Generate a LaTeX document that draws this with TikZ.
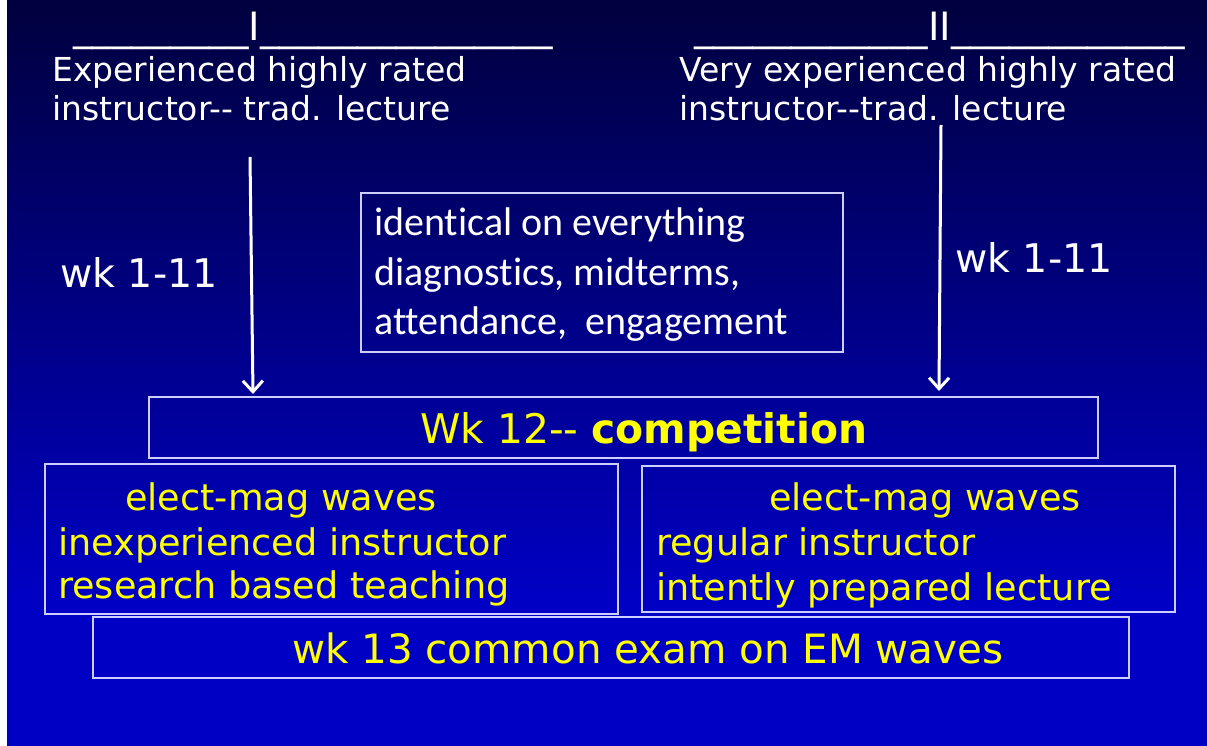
\documentclass[tikz,border=0pt]{standalone}
\usepackage{fontspec}
\setmainfont{DejaVu Sans}
\newfontfamily\calibri{Carlito}[Ligatures={NoCommon}]
\usetikzlibrary{arrows.meta}
\definecolor{bgtop}{RGB}{0,0,62}
\definecolor{bgbot}{RGB}{0,0,196}
\definecolor{frame}{RGB}{205,205,255}
\definecolor{hiyellow}{RGB}{255,255,0}
\tikzset{
  txt/.style={inner sep=0pt, anchor=base west, text=white},
  ytxt/.style={inner sep=0pt, anchor=base west, text=hiyellow},
  heading/.style={txt, font=\fontsize{39}{47}\selectfont},
  body/.style={txt, font=\fontsize{33}{40}\selectfont},
  weeks/.style={txt, font=\fontsize{39.5}{47}\selectfont},
  compline/.style={ytxt, font=\fontsize{40.8}{49}\selectfont},
  examline/.style={ytxt, font=\fontsize{40.4}{48}\selectfont},
  yellow/.style={ytxt, font=\fontsize{36.6}{44}\selectfont},
  note/.style={txt, font=\calibri\fontsize{40}{48}\selectfont},
  panel/.style={draw=frame, line width=1.5pt, inner sep=0pt},
  flow/.style={draw=white, line width=3pt, -{Straight Barb[length=11pt,width=20pt]}}
}
\begin{document}
\begin{tikzpicture}[x=1pt, y=-1pt]
\useasboundingbox (0,0) rectangle (1207,746);
% background
\fill[white] (0,0) rectangle (7,746);
\shade[top color=bgtop, bottom color=bgbot] (7,0) rectangle (1207,600);
\fill[bgbot] (7,599.5) rectangle (1207,746);

% column headings
\node[heading] (h1) at (73,41) {\_\_\_\_\_\_\_\_\_I\_\_\_\_\_\_\_\_\_\_\_\_\_\_\_};
\node[heading] (h2) at (694,41) {\_\_\_\_\_\_\_\_\_\_\_\_II\_\_\_\_\_\_\_\_\_\_\_\_};
\node[body] (d1a) at (52,82) {Experienced highly rated};
\node[body] (d1b) at (52,121) {instructor-{}- trad. lecture};
\node[body] (d2a) at (679,82) {Very experienced highly rated};
\node[body] (d2b) at (679,121) {instructor-{}-trad. lecture};

% week labels
\node[weeks] (w1) at (60,287) {wk 1-11};
\node[weeks] (w2) at (955,272) {wk 1-11};

% shared conditions box
\node[panel, minimum width=482pt, minimum height=159pt] (same) at (602,272.5) {};
\node[note] (s1) at (374,236) {identical on everything};
\node[note] (s2) at (374,285) {diagnostics, midterms,};
\node[note] (s3) at (374,334) {attendance,\ \ engagement};

% competition week
\node[panel, minimum width=949pt, minimum height=61pt] (comp) at (623.5,427.5) {};
\node[compline] (c1) at (420,443) {Wk 12-{}- \textbf{competition}};

% the two sections
\node[panel, minimum width=573pt, minimum height=150pt] (secA) at (331.5,539) {};
\node[yellow] (a1) at (125,510) {elect-mag waves};
\node[yellow] (a2) at (58,555) {inexperienced instructor};
\node[yellow] (a3) at (58,598) {research based teaching};

\node[panel, minimum width=533pt, minimum height=146pt] (secB) at (908.5,539) {};
\node[yellow] (b1) at (769,510) {elect-mag waves};
\node[yellow] (b2) at (656,555) {regular instructor};
\node[yellow] (b3) at (656,600) {intently prepared lecture};

% common exam
\node[panel, minimum width=1036pt, minimum height=61pt] (exam) at (611,647.5) {};
\node[examline] (e1) at (292,663) {wk 13 common exam on EM waves};

% arrows into the competition week
\coordinate (l0) at (250,157);
\coordinate (l1) at (253,394);
\coordinate (r0) at (941,125);
\coordinate (r1) at (939,391);
\draw[flow] (l0) -- (l1);
\draw[flow] (r0) -- (r1);
\end{tikzpicture}
\end{document}
